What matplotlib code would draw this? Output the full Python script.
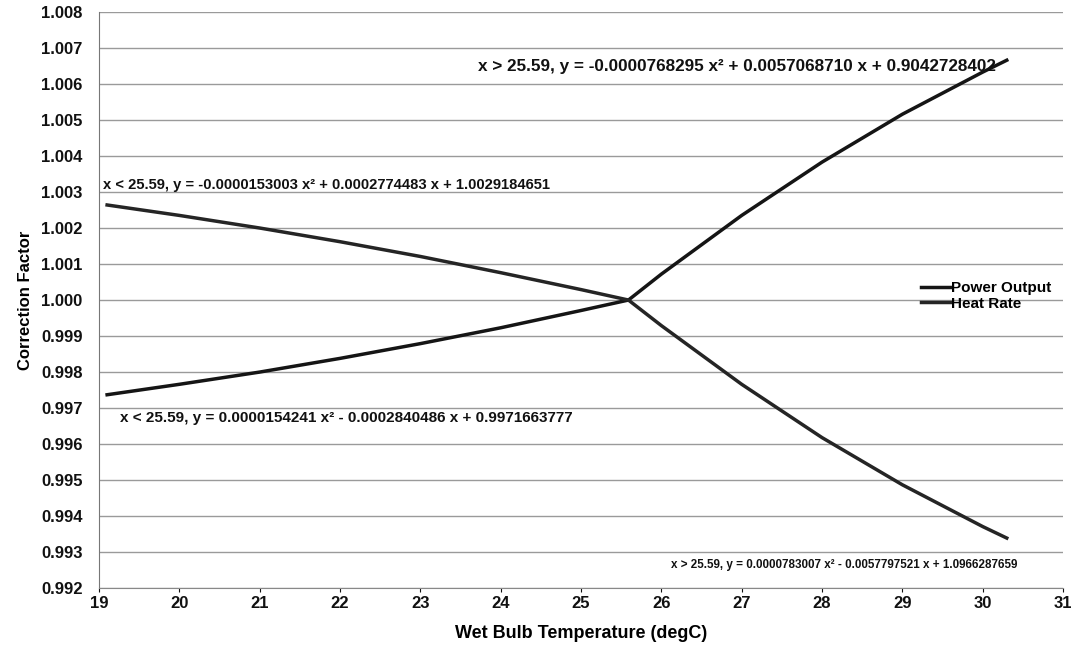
"""Correction factors for power output and heat rate against wet bulb temperature."""

import matplotlib

matplotlib.use("Agg")
import matplotlib.pyplot as plt  # noqa: E402

plt.rcParams["font.family"] = ["Liberation Sans", "DejaVu Sans"]
plt.rcParams["font.weight"] = "bold"

# wet bulb temperature (degC) sample points along each curve
temp = [19.1, 20, 21, 22, 23, 24, 25, 25.59, 26, 27, 28, 29, 30, 30.3]

power_output = [0.99737, 0.99766, 0.99800, 0.99838, 0.99879, 0.99923, 0.99971,
                1.00000, 1.00072, 1.00235, 1.00383, 1.00516, 1.00633, 1.00666]
heat_rate = [1.00264, 1.00235, 1.00200, 1.00162, 1.00121, 1.00076, 1.00029,
             1.00000, 0.99929, 0.99766, 0.99618, 0.99487, 0.99371, 0.99339]

y_ticks = [0.992, 0.993, 0.994, 0.995, 0.996, 0.997, 0.998, 0.999, 1.000,
           1.001, 1.002, 1.003, 1.004, 1.005, 1.006, 1.007, 1.008]
x_ticks = list(range(19, 32))

# fitted trendline equations, placed by (x, y) in data coordinates
fit_labels = [
    "x > 25.59, y = -0.0000768295 x\u00b2 + 0.0057068710 x + 0.9042728402",
    "x < 25.59, y = -0.0000153003 x\u00b2 + 0.0002774483 x + 1.0029184651",
    "x < 25.59, y = 0.0000154241 x\u00b2 - 0.0002840486 x + 0.9971663777",
    "x > 25.59, y = 0.0000783007 x\u00b2 - 0.0057797521 x + 1.0966287659",
]
fit_pos = [(23.72, 1.00648), (19.05, 1.00320), (19.26, 0.99672), (26.12, 0.99264)]
fit_size = [12.3, 10.6, 11.0, 8.4]

fig = plt.figure(figsize=(10.77, 6.47), dpi=100)
ax = fig.add_axes([0.092, 0.091, 0.895, 0.8905])

ax.plot(temp, power_output, color="#151515", lw=2.5, label="Power Output")
ax.plot(temp, heat_rate, color="#252525", lw=2.5, label="Heat Rate")

for txt, (x, y), fs in zip(fit_labels, fit_pos, fit_size):
    ax.text(x, y, txt, fontsize=fs, fontweight="bold", va="center", ha="left",
            color="#111111")

ax.set_xlim(19, 31)
ax.set_ylim(0.992, 1.008)
ax.set_xticks(x_ticks)
ax.set_yticks(y_ticks)
ax.set_yticklabels([f"{v:.3f}" for v in y_ticks])
ax.tick_params(axis="both", labelsize=12, colors="#111111", length=3,
               width=0.8, direction="out")
ax.tick_params(axis="x", pad=3)
ax.tick_params(axis="y", length=0, pad=12)
for lbl in ax.get_xticklabels() + ax.get_yticklabels():
    lbl.set_fontweight("bold")

ax.grid(axis="y", color="#9a9a9a", lw=1.0)
ax.set_axisbelow(True)
for side in ("top", "right"):
    ax.spines[side].set_visible(False)
ax.spines["left"].set_color("#777777")
ax.spines["bottom"].set_color("#888888")

ax.set_xlabel("Wet Bulb Temperature (degC)", fontsize=13, fontweight="bold",
              labelpad=10)
ax.set_ylabel("Correction Factor", fontsize=12, fontweight="bold", labelpad=6)

leg = ax.legend(loc="center left", bbox_to_anchor=(0.845, 0.507), frameon=False,
                fontsize=11, handlelength=1.9, handletextpad=0.05,
                labelspacing=0.1, borderpad=0)
for t in leg.get_texts():
    t.set_fontweight("bold")

fig.savefig("out.png", dpi=100, facecolor="white")
